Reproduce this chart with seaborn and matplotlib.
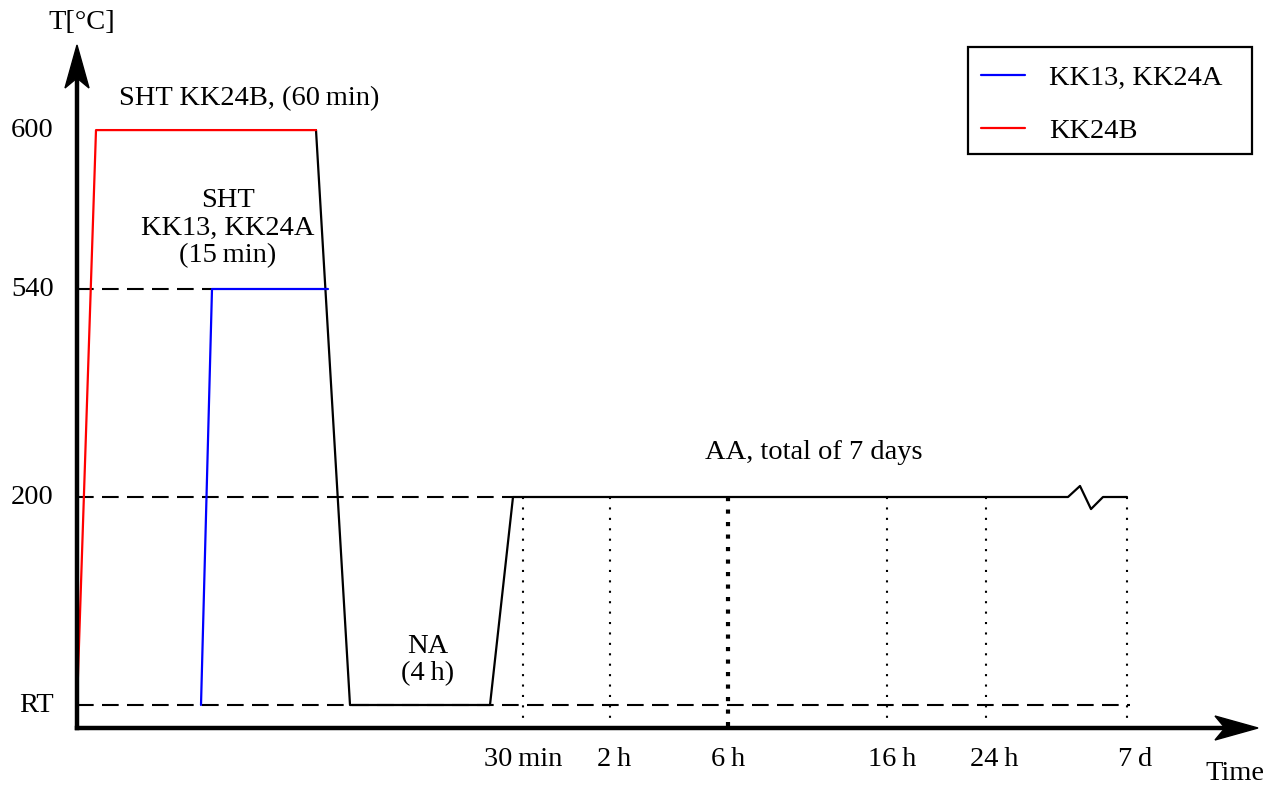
import pandas as pd
import matplotlib.pyplot as plt
import seaborn as sns
from matplotlib.lines import Line2D
from matplotlib.patches import Polygon, Rectangle

# schematic time axis (t, arbitrary units) and temperature levels
level_names = ['RT', '200', '540', '600']
level_pos = [0.0, 1.0, 2.0, 2.764]

red_t = [0, 19, 239]
red_T = [0.0, 2.764, 2.764]

blue_t = [124, 135, 251]
blue_T = [0.0, 2.0, 2.0]

black_t = [239, 273, 413, 436, 991, 1003, 1014, 1026, 1050]
black_T = [2.764, 0.0, 0.0, 1.0, 1.0, 1.053, 0.942, 1.0, 1.0]

# dashed guides: level and end of the dash
guide_T = [2.0, 1.0, 0.0]
guide_end = [135, 436, 1053]

# aging sample times
age_t = [446, 533, 651, 810, 909, 1050]
age_label_t = [446, 537, 651, 815, 917, 1058]
age_labels = ['30\u2009min', '2\u2009h', '6\u2009h', '16\u2009h', '24\u2009h', '7\u2009d']

sns.set_theme(style='white')
plt.rcParams['font.family'] = ['Liberation Serif', 'DejaVu Serif']
plt.rcParams['text.color'] = 'black'
fs = 20.5

fig = plt.figure(figsize=(12.79, 7.86), dpi=100)
ax = fig.add_axes([0, 0, 1, 1])


def lv(py):
    return (705 - py) / 208


axis_y = lv(728)

# dashed guides
for T, e in zip(guide_T, guide_end):
    ax.plot([0, e], [T, T], color='black', lw=1.5, ls=(0, (8, 4)), zorder=2)

# dotted aging times
for i, t in enumerate(age_t):
    if i == 2:
        ax.plot([t, t], [1.0, axis_y], color='black', lw=3, ls=(0, (1, 2)), zorder=2)
    else:
        ax.plot([t, t], [1.0, axis_y], color='black', lw=1.5, ls=(0, (1, 4)), zorder=2)

df_red = pd.DataFrame({'t': red_t, 'T': red_T})
df_blue = pd.DataFrame({'t': blue_t, 'T': blue_T})
df_black = pd.DataFrame({'t': black_t, 'T': black_T})
sns.lineplot(data=df_black, x='t', y='T', sort=False, estimator=None, color='black', lw=1.6, ax=ax, zorder=3)
sns.lineplot(data=df_red, x='t', y='T', sort=False, estimator=None, color='#ff0000', lw=1.6, ax=ax, zorder=4)
sns.lineplot(data=df_blue, x='t', y='T', sort=False, estimator=None, color='#0000ff', lw=1.6, ax=ax, zorder=4)
ax.set_xlim(-77, 1202)
ax.set_ylim(-81 / 208, 705 / 208)
ax.axis('off')

# axes with stealth arrowheads
ax.plot([0, 0], [axis_y, lv(80)], color='black', lw=3.2, solid_capstyle='projecting', zorder=5)
ax.plot([0, 1150], [axis_y, axis_y], color='black', lw=3.2, solid_capstyle='projecting', zorder=5)
hw = 12
ax.add_patch(Polygon([[0, lv(45)], [-hw, lv(88)], [0, lv(78)], [hw, lv(88)]],
                     closed=True, color='black', zorder=6))
ax.add_patch(Polygon([[1181, axis_y], [1138, axis_y + hw / 208], [1148, axis_y],
                      [1138, axis_y - hw / 208]], closed=True, color='black', zorder=6))

# tick labels
for name, p in zip(level_names, level_pos):
    ax.text(-23, p, name, ha='right', va='center', fontsize=fs, color='black')
for lab, t in zip(age_label_t, age_labels):
    ax.text(lab, lv(760), t, ha='center', va='center', fontsize=fs, color='black')

ax.text(5, lv(22), 'T[°C]', ha='center', va='center', fontsize=fs, color='black')
ax.text(1158, lv(774), 'Time', ha='center', va='center', fontsize=fs, color='black')

# annotations
ax.text(172, lv(99), 'SHT KK24B, (60\u2009min)', ha='center', va='center', fontsize=fs)
ax.text(151, lv(228), 'SHT\nKK13, KK24A\n(15\u2009min)', ha='center', va='center',
        fontsize=fs, linespacing=1.15)
ax.text(351, lv(660), 'NA\n(4\u2009h)', ha='center', va='center', fontsize=fs, linespacing=1.15)
ax.text(737, lv(452), 'AA, total of 7 days', ha='center', va='center', fontsize=fs)

# legend: frame drawn separately
fig.patches.append(Rectangle((968 / 1279, 1 - 154 / 786), 284 / 1279, 107 / 786,
                             transform=fig.transFigure, fill=False, edgecolor='black',
                             lw=1.6, zorder=10))
handles = [Line2D([], [], color='#0000ff', lw=1.6), Line2D([], [], color='#ff0000', lw=1.6)]
leg = ax.legend(handles, ['KK13, KK24A', 'KK24B'], fontsize=fs,
                bbox_to_anchor=(968 / 1279, 1 - 52 / 786),
                bbox_transform=fig.transFigure, loc='upper left',
                borderaxespad=0, frameon=False, handlelength=1.55,
                handletextpad=0.85, labelspacing=0.97, borderpad=0.45)
for txt in leg.get_texts():
    txt.set_color('black')

fig.savefig('out.png', dpi=100)
